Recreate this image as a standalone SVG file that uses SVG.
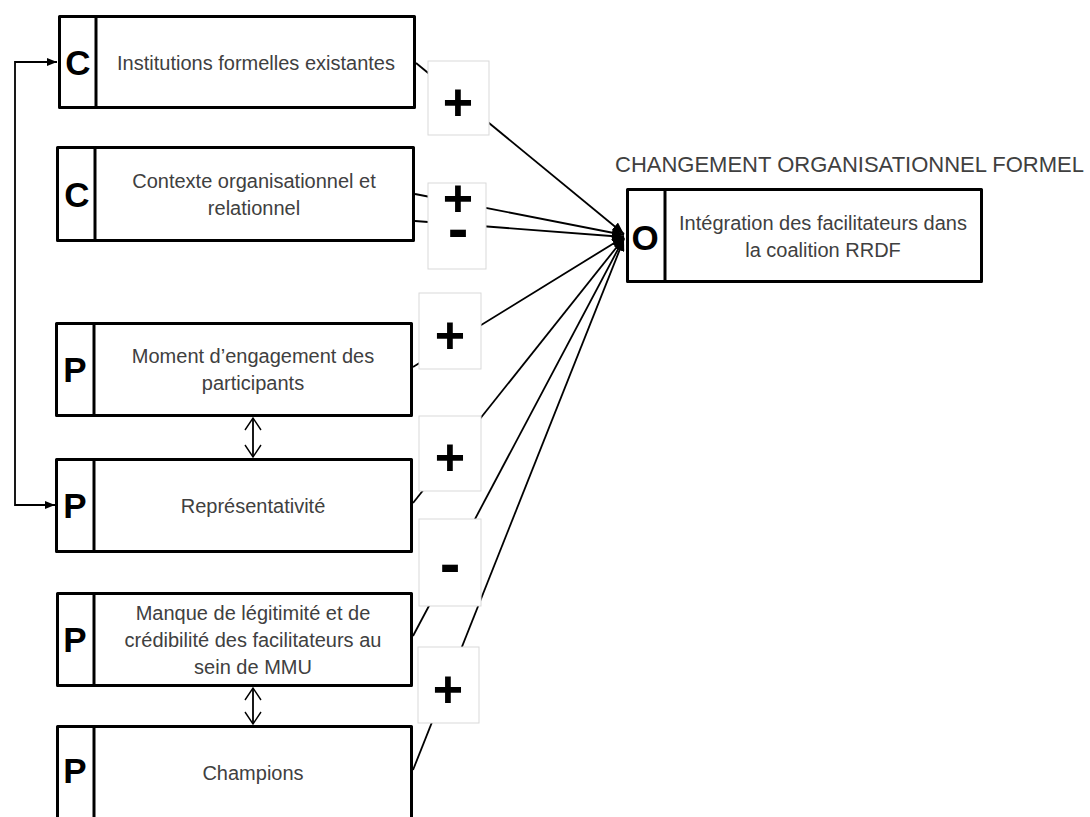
<svg xmlns="http://www.w3.org/2000/svg" width="1090" height="817" viewBox="0 0 1090 817">
<style>
.box{fill:#fff;stroke:#000;stroke-width:3;stroke-linejoin:round}
.div{stroke:#000;stroke-width:3}
.tag{font-family:"Liberation Sans",Arial,sans-serif;font-weight:bold;font-size:35px;fill:#000;text-anchor:middle}
.txt{font-family:"Liberation Sans",Arial,sans-serif;font-size:20px;fill:#404040;text-anchor:middle}
.title{font-family:"Liberation Sans",Arial,sans-serif;font-size:22px;fill:#404040}
.conn{stroke:#000;stroke-width:1.8;fill:none}
.lbl{fill:#fff;stroke:#d9d9d9;stroke-width:1}
.sign{font-family:"Liberation Sans",Arial,sans-serif;font-weight:bold;font-size:52px;fill:#000;text-anchor:middle}
.minus{font-family:"Liberation Sans",Arial,sans-serif;font-weight:bold;font-size:62px;fill:#000;text-anchor:middle}
</style>
<defs>
<marker id="ah" markerUnits="userSpaceOnUse" markerWidth="12" markerHeight="10" refX="12" refY="5" orient="auto-start-reverse" viewBox="0 0 12 10">
<path d="M0,0 L12,5 L0,10 z" fill="#000"/>
</marker>
<marker id="ahs" markerUnits="userSpaceOnUse" markerWidth="10" markerHeight="10" refX="10" refY="5" orient="auto-start-reverse" viewBox="0 0 10 10">
<path d="M0,1 L10,5 L0,9 z" fill="#000"/>
</marker>
<marker id="ao" markerUnits="userSpaceOnUse" markerWidth="14" markerHeight="20" refX="13" refY="9" orient="auto-start-reverse" viewBox="0 0 14 18">
<path d="M1,1 L13,9 L1,17" fill="none" stroke="#000" stroke-width="1.4"/>
</marker>
</defs>
<rect width="1090" height="817" fill="#fff"/>

<g id="connectors">
<line class="conn" x1="416" y1="63" x2="624" y2="234" marker-end="url(#ah)"/>
<line class="conn" x1="415" y1="194" x2="624" y2="235" marker-end="url(#ah)"/>
<line class="conn" x1="415" y1="221" x2="624" y2="237" marker-end="url(#ah)"/>
<line class="conn" x1="413" y1="367" x2="624" y2="237" marker-end="url(#ah)"/>
<line class="conn" x1="413" y1="503" x2="624" y2="238" marker-end="url(#ah)"/>
<line class="conn" x1="413" y1="636" x2="624" y2="238" marker-end="url(#ah)"/>
<line class="conn" x1="413" y1="770" x2="624" y2="239" marker-end="url(#ah)"/>
<path class="conn" stroke-width="1.5" d="M55,505 H15 V62 H57" marker-start="url(#ahs)" marker-end="url(#ahs)"/>
<line class="conn" stroke-width="1.4" x1="253" y1="418" x2="253" y2="457" marker-start="url(#ao)" marker-end="url(#ao)"/>
<line class="conn" stroke-width="1.4" x1="253" y1="688" x2="253" y2="724" marker-start="url(#ao)" marker-end="url(#ao)"/>
</g>

<g id="labels">
<rect class="lbl" x="428" y="61" width="61" height="74"/>
<text class="sign" x="458" y="120">+</text>
<rect class="lbl" x="428" y="183" width="58" height="86"/>
<text class="sign" x="458" y="216">+<tspan class="minus" x="458" y="249">-</tspan></text>
<rect class="lbl" x="419" y="293" width="62" height="76"/>
<text class="sign" x="450" y="353">+</text>
<rect class="lbl" x="419" y="416" width="62" height="75"/>
<text class="sign" x="450" y="475">+</text>
<rect class="lbl" x="419" y="519" width="62" height="87"/>
<text class="minus" x="450" y="584">-</text>
<rect class="lbl" x="418" y="647" width="61" height="76"/>
<text class="sign" x="448" y="707">+</text>
</g>

<g id="n1">
<rect class="box" x="59.5" y="16.5" width="355" height="91"/>
<line class="div" x1="96" y1="16.5" x2="96" y2="107.5"/>
<text class="tag" x="78" y="75">C</text>
<text class="txt" x="256" y="70">Institutions formelles existantes</text>
</g>

<g id="n2">
<rect class="box" x="57.5" y="147.5" width="356" height="93"/>
<line class="div" x1="95" y1="147.5" x2="95" y2="240.5"/>
<text class="tag" x="77" y="207">C</text>
<text class="txt" x="254" y="188">Contexte organisationnel et</text>
<text class="txt" x="254" y="215">relationnel</text>
</g>

<g id="n3">
<rect class="box" x="56.5" y="323.5" width="355" height="92"/>
<line class="div" x1="94" y1="323.5" x2="94" y2="415.5"/>
<text class="tag" x="75" y="382">P</text>
<text class="txt" x="253" y="363">Moment d’engagement des</text>
<text class="txt" x="253" y="390">participants</text>
</g>

<g id="n4">
<rect class="box" x="56.5" y="459.5" width="355" height="92"/>
<line class="div" x1="94" y1="459.5" x2="94" y2="551.5"/>
<text class="tag" x="75" y="518">P</text>
<text class="txt" x="253" y="513">Représentativité</text>
</g>

<g id="n5">
<rect class="box" x="57.5" y="593.5" width="354" height="92"/>
<line class="div" x1="94" y1="593.5" x2="94" y2="685.5"/>
<text class="tag" x="75" y="652">P</text>
<text class="txt" x="253" y="620">Manque de légitimité et de</text>
<text class="txt" x="253" y="647">crédibilité des facilitateurs au</text>
<text class="txt" x="253" y="674">sein de MMU</text>
</g>

<g id="n6">
<rect class="box" x="57.5" y="726.5" width="354" height="110"/>
<line class="div" x1="94" y1="726.5" x2="94" y2="836.5"/>
<text class="tag" x="75" y="783">P</text>
<text class="txt" x="253" y="780">Champions</text>
</g>

<g id="target">
<text class="title" x="615" y="172">CHANGEMENT ORGANISATIONNEL FORMEL</text>
<rect class="box" x="627.5" y="189.5" width="354" height="92"/>
<line class="div" x1="665" y1="189.5" x2="665" y2="281.5"/>
<text class="tag" x="645" y="250" font-size="38">O</text>
<text class="txt" x="823" y="230">Intégration des facilitateurs dans</text>
<text class="txt" x="823" y="257">la coalition RRDF</text>
</g>
</svg>
